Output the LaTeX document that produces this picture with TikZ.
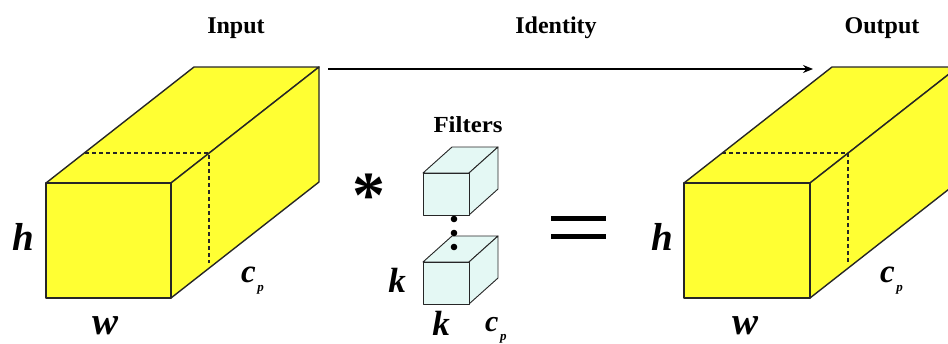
\documentclass[tikz,border=0pt]{standalone}
\usepackage{fontspec}
\setmainfont{Liberation Serif}
\usetikzlibrary{arrows.meta}
\begin{document}
\begin{tikzpicture}[x=1pt,y=-1pt,
  edge/.style={draw=black!85, line width=1.4pt, line join=round},
  yface/.style={edge, fill=yellowbox},
  cface/.style={edge, line width=0.9pt, fill=cyanbox},
  hidden/.style={draw=black!85, line width=1.3pt, dash pattern=on 4pt off 3pt},
  head/.style={font=\bfseries\fontsize{24}{24}\selectfont, inner sep=0pt, anchor=base},
  var/.style={font=\bfseries\itshape\fontsize{39}{39}\selectfont, inner sep=0pt, anchor=base},
  cp/.style={font=\bfseries\itshape\fontsize{33}{33}\selectfont, inner sep=0pt, anchor=base west},
]
\definecolor{yellowbox}{RGB}{255,255,51}
\definecolor{cyanbox}{RGB}{228,248,244}
\newcommand{\cpsub}{c\hspace{1.5pt}\fontsize{13}{13}\selectfont\raisebox{-9pt}{p}}
\useasboundingbox (0,0) rectangle (948,343);
\clip (0,0) rectangle (948,343);

% Input cuboid
\coordinate (iA) at (46,183);  \coordinate (iB) at (171,183);
\coordinate (iC) at (171,298); \coordinate (iD) at (46,298);
\coordinate (iE) at (194,67);  \coordinate (iF) at (319,67);
\coordinate (iG) at (319,182);
\path[yface] (iA) -- (iB) -- (iF) -- (iE) -- cycle;
\path[yface] (iB) -- (iF) -- (iG) -- (iC) -- cycle;
\path[yface] (iA) -- (iB) -- (iC) -- (iD) -- cycle;
\draw[hidden] (85,153) -- (209,153) -- (209,263);

% Output cuboid
\coordinate (oA) at (684,183);  \coordinate (oB) at (810,183);
\coordinate (oC) at (810,298); \coordinate (oD) at (684,298);
\coordinate (oE) at (832,67);  \coordinate (oF) at (958,67);
\coordinate (oG) at (958,182);
\path[yface] (oA) -- (oB) -- (oF) -- (oE) -- cycle;
\path[yface] (oB) -- (oF) -- (oG) -- (oC) -- cycle;
\path[yface] (oA) -- (oB) -- (oC) -- (oD) -- cycle;
\draw[hidden] (722,153) -- (848,153) -- (848,263);

% Identity arrow
\coordinate (arS) at (328,69);
\coordinate (arE) at (813,69);
\draw[line width=1.4pt, -{Stealth[length=10pt,width=8pt]}] (arS) -- (arE);

% Filters
\foreach \n/\t in {fa/173, fb/262}{
  \path[cface] (423,\t) -- (469,\t) -- (498,\t-26) -- (452,\t-26) -- cycle;
  \path[cface] (469,\t) -- (498,\t-26) -- (498,\t+16) -- (469,\t+42) -- cycle;
  \path[cface] (423,\t) rectangle (469,\t+42);
  \coordinate (\n) at (446,\t);
}
\foreach \yy in {219,233,247} \fill (454,\yy) circle (3.3pt);

% Texts
\node[head] (tin) at (236,33) {Input};
\node[head] (tid) at (556,33) {Identity};
\node[head] (tout) at (882,33) {Output};
\node[head, font=\bfseries\fontsize{23}{23}\selectfont] (tf) at (468,132) {\scalebox{1.08}[1]{Filters}};

\node[var] (ih) at (23,250) {h};
\node[var] (iw) at (106,334) {w};
\node[cp] (ic) at (241,282) {\cpsub};
\node[var] (oh) at (662,250) {h};
\node[var] (ow) at (745,334) {w};
\node[cp] (oc) at (880,282) {\cpsub};

\node[var, font=\bfseries\itshape\fontsize{35}{35}\selectfont] (kl) at (397,292) {k};
\node[var, font=\bfseries\itshape\fontsize{35}{35}\selectfont] (kb) at (441,335) {k};
\node[cp, font=\bfseries\itshape\fontsize{30}{30}\selectfont] (fc) at (485,331) {\cpsub};

\node[inner sep=0pt, font=\bfseries\fontsize{66}{66}\selectfont] (ast) at (369,196) {*};
\fill (551,215.5) rectangle (606,220.5);
\fill (551,233.5) rectangle (606,238.5);
\end{tikzpicture}
\end{document}
